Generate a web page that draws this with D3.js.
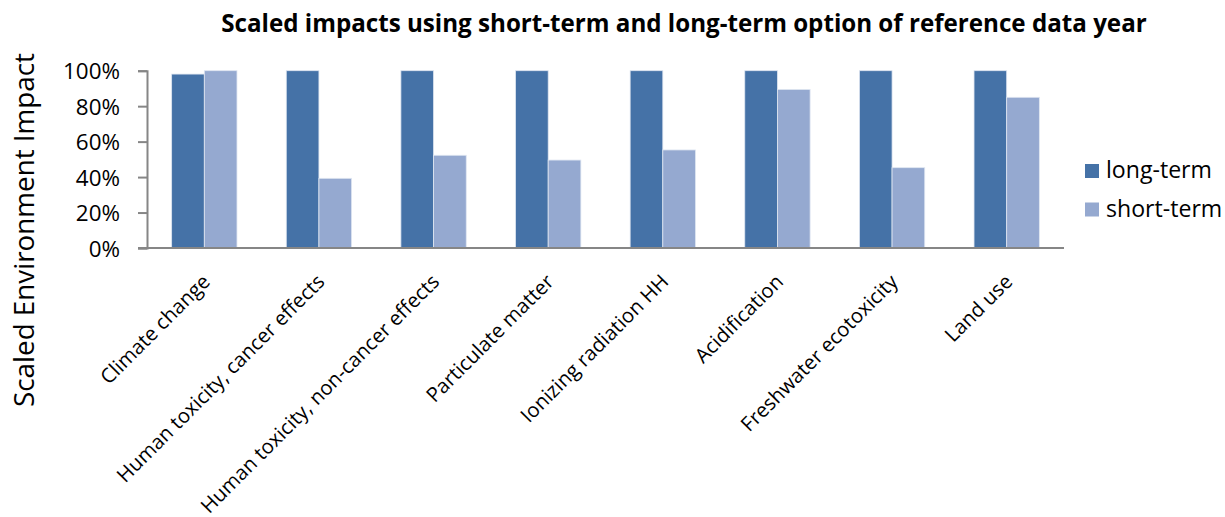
<!DOCTYPE html>
<html>
<head>
<meta charset="UTF-8">
<title>Scaled impacts</title>
<script src="https://d3js.org/d3.v7.min.js"></script>
<style>
  body { margin: 0; background: #fff; }
  text { font-family: "Open Sans", "Noto Sans", sans-serif; fill: #000; }
</style>
</head>
<body>
<div id="chart"></div>
<script>
// categories and values
var categories = ["Climate change", "Human toxicity, cancer effects", "Human toxicity, non-cancer effects",
  "Particulate matter", "Ionizing radiation HH", "Acidification", "Freshwater ecotoxicity", "Land use"];
var longTerm  = [0.981, 1, 1, 1, 1, 1, 1, 1];
var shortTerm = [1, 0.393, 0.523, 0.496, 0.553, 0.894, 0.453, 0.85];
var seriesNames = ["long-term", "short-term"];
var seriesColors = ["#4572a7", "#95a9d0"];
var yTicks = [0, 0.2, 0.4, 0.6, 0.8, 1];

var W = 1225, H = 517;
var plot = {left: 147, right: 1064, top: 70.7, bottom: 248};

var svg = d3.select("#chart").append("svg")
    .attr("width", W).attr("height", H);

// shrink / grow a text so that it spans the wanted width
function fit(sel, target) {
  var w = sel.node().getComputedTextLength();
  var fs = parseFloat(sel.attr("font-size"));
  sel.attr("font-size", fs * target / w);
  return fs * target / w;
}

var x0 = d3.scaleBand().domain(categories).range([plot.left, plot.right]).paddingInner(0.43).paddingOuter(0.215);
var x1 = d3.scaleBand().domain(seriesNames).range([0, x0.bandwidth()]);
var y = d3.scaleLinear().domain([0, 1]).range([plot.bottom, plot.top]);

var rows = categories.map(function(c, i) {
  return {cat: c, vals: [longTerm[i], shortTerm[i]]};
});

// bars
var groups = svg.selectAll(".grp").data(rows).enter().append("g")
  .attr("class", "grp")
  .attr("transform", function(d) { return "translate(" + x0(d.cat) + ",0)"; });

groups.selectAll("rect").data(function(d) {
    return d.vals.map(function(v, j) { return {s: seriesNames[j], v: v, j: j}; });
  })
  .enter().append("rect")
  .attr("x", function(d) { return x1(d.s); })
  .attr("width", x1.bandwidth())
  .attr("y", function(d) { return y(d.v); })
  .attr("height", function(d) { return y(0) - y(d.v); })
  .attr("fill", function(d) { return seriesColors[d.j]; })
  .attr("stroke", "#dfe6f1")
  .attr("stroke-width", 0.8);

// y axis
var yAxis = d3.axisLeft(y).tickValues(yTicks).tickFormat(d3.format(".0%")).tickSize(9).tickPadding(18);
var ga = svg.append("g").attr("transform", "translate(" + plot.left + ",0)").call(yAxis);
ga.select(".domain").attr("stroke", "#868686").attr("stroke-width", 2);
ga.selectAll(".tick line").attr("stroke", "#868686").attr("stroke-width", 2);
ga.selectAll(".tick text").attr("font-size", 19).attr("font-family", null).attr("dy", "0.36em");
var topTick = ga.selectAll(".tick text").filter(function(d) { return d === 1; });
var tfs = fit(topTick, 57);
ga.selectAll(".tick text").attr("font-size", tfs);

// x axis line
svg.append("line")
  .attr("x1", plot.left - 9).attr("x2", plot.right)
  .attr("y1", y(0)).attr("y2", y(0))
  .attr("stroke", "#868686").attr("stroke-width", 2);

// x labels
var xl = svg.selectAll(".xl").data(categories).enter().append("text")
  .attr("class", "xl")
  .attr("font-size", 20)
  .attr("text-anchor", "end")
  .attr("transform", function(d) {
    return "translate(" + (x0(d) + x0.bandwidth() / 2 + 7) + "," + (plot.bottom + 35) + ") rotate(-45)";
  })
  .text(function(d) { return d; });
var xfs = fit(xl.filter(function(d, i) { return i === 0; }), 145);
xl.attr("font-size", xfs);

// title
var title = svg.append("text")
  .attr("x", 684).attr("y", 32)
  .attr("text-anchor", "middle")
  .attr("font-weight", "bold")
  .attr("font-size", 20)
  .text("Scaled impacts using short-term and long-term option of reference data year");
fit(title, 926);

// y axis title
var ylab = svg.append("text")
  .attr("transform", "translate(34,230) rotate(-90)")
  .attr("text-anchor", "middle")
  .attr("font-size", 26)
  .text("Scaled Environment Impact");
fit(ylab, 354);

// legend
var leg = svg.selectAll(".leg").data(seriesNames).enter().append("g")
  .attr("class", "leg")
  .attr("transform", function(d, i) { return "translate(1085," + (164 + i * 38.5) + ")"; });
leg.append("rect").attr("width", 14).attr("height", 14)
  .attr("fill", function(d, i) { return seriesColors[i]; });
var lt = leg.append("text").attr("x", 21).attr("y", 14).attr("font-size", 20)
  .text(function(d) { return d; });
var lfs = fit(lt.filter(function(d, i) { return i === 0; }), 106);
lt.attr("font-size", lfs);
</script>
</body>
</html>
